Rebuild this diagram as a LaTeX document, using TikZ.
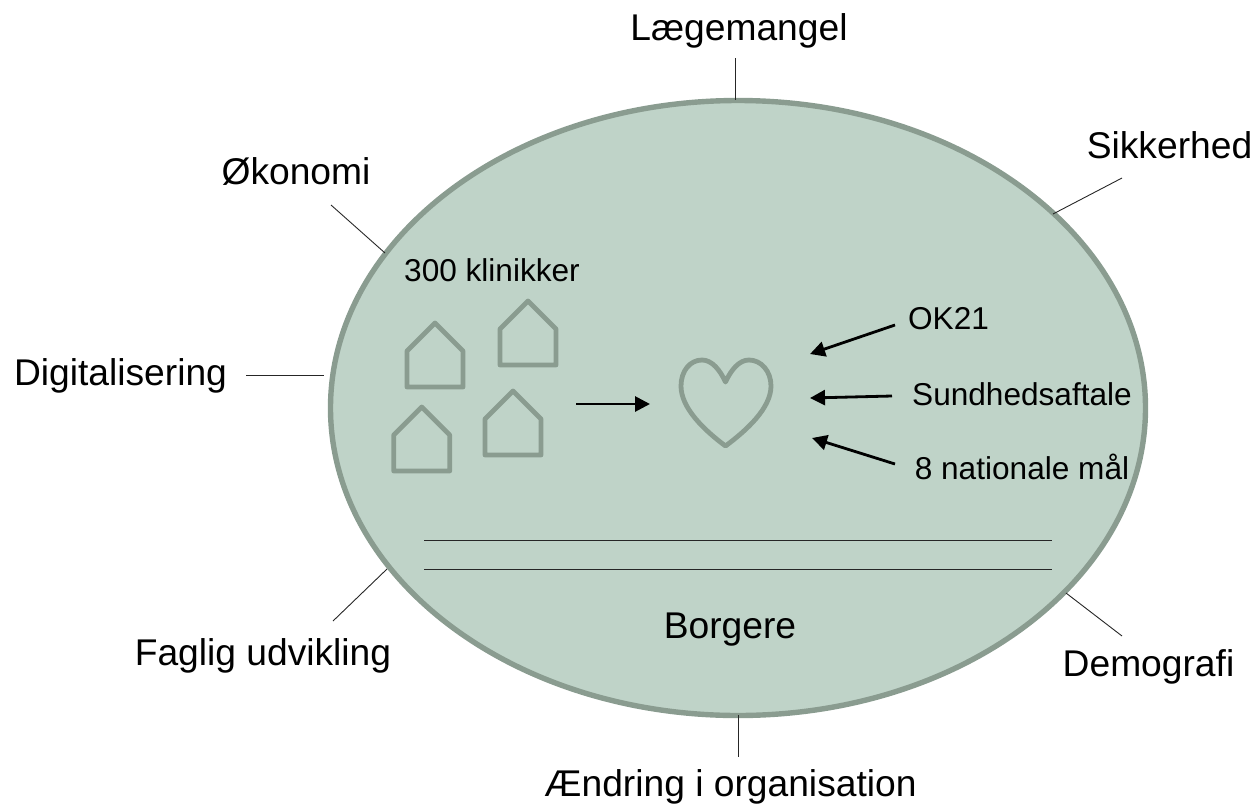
\documentclass[tikz,border=0pt]{standalone}
\usepackage{fontspec}
\setmainfont{Liberation Sans}
\usetikzlibrary{arrows.meta,shapes.geometric}
\definecolor{blobfill}{HTML}{BFD3C8}
\definecolor{blobline}{HTML}{8A9C90}
\tikzset{
  x=1pt,y=-1pt,
  biglabel/.style={inner sep=0pt,font=\fontsize{37.2}{42}\selectfont,anchor=base},
  smalllabel/.style={inner sep=0pt,font=\fontsize{31.6}{36}\selectfont,anchor=base},
  thinline/.style={draw=black!85,line width=0.9pt},
  pointer/.style={draw=black,line width=2.8pt,-{Triangle[length=15pt,width=15pt]}},
  outlineshape/.style={draw=blobline,line width=4.8pt,line join=round},
}
\newcommand{\houseat}[2]{\draw[outlineshape] (#1,#2) -- ++(28,28) -- ++(0,36) -- ++(-56,0) -- ++(0,-36) -- cycle;}
\begin{document}
\begin{tikzpicture}
\useasboundingbox (0,0) rectangle (1256,804);
\node[ellipse,draw=blobline,fill=blobfill,line width=5.4pt,inner sep=0pt,outer sep=0pt,minimum width=815pt,minimum height=615pt] (blob) at (738,408) {};
% outer labels
\node[biglabel] (laege) at (739,40) {Lægemangel};
\node[biglabel] (sikker) at (1169.5,158) {Sikkerhed};
\node[biglabel] (oko) at (296,184) {Økonomi};
\node[biglabel] (digi) at (120.5,385) {Digitalisering};
\node[biglabel] (faglig) at (263,665) {Faglig udvikling};
\node[biglabel] (demo) at (1148.5,676.5) {Demografi};
\node[biglabel] (aendr) at (730.5,796) {Ændring i organisation};
\node[biglabel] (borg) at (730,638) {Borgere};
% inner labels
\node[smalllabel] (klin) at (492,281) {300 klinikker};
\node[smalllabel] (ok) at (948.5,329.5) {OK21};
\node[smalllabel] (sund) at (1022,405.5) {Sundhedsaftale};
\node[smalllabel] (mal) at (1022,479) {8 nationale mål};
% spokes
\coordinate (a1) at (735,58); \coordinate (a2) at (735,100);
\coordinate (b1) at (1122,178); \coordinate (b2) at (1053,214);
\coordinate (c1) at (331,205); \coordinate (c2) at (385,253);
\coordinate (d1) at (246,375); \coordinate (d2) at (324,375);
\coordinate (e1) at (333,621); \coordinate (e2) at (387,569);
\coordinate (f1) at (1122,636); \coordinate (f2) at (1066,593);
\coordinate (g1) at (738,715); \coordinate (g2) at (738,757);
\foreach \p/\q in {a1/a2,b1/b2,c1/c2,d1/d2,e1/e2,f1/f2,g1/g2} \draw[thinline] (\p) -- (\q);
% lines
\coordinate (l1) at (424,540); \coordinate (l2) at (1052,540);
\coordinate (m1) at (424,569); \coordinate (m2) at (1052,569);
\draw[thinline] (l1) -- (l2);
\draw[thinline] (m1) -- (m2);
% houses
\houseat{435}{323}
\houseat{528}{301}
\houseat{421.7}{407}
\houseat{513}{391}
% heart
\draw[outlineshape] (725.5,382)
  .. controls (720,370) and (712,360) .. (702,360)
  .. controls (690,360) and (681,371) .. (681,386)
  .. controls (681,408) and (704,430) .. (725.5,446)
  .. controls (747,430) and (771,408) .. (771,386)
  .. controls (771,371) and (761,360) .. (749,360)
  .. controls (739,360) and (731,370) .. (725.5,382) -- cycle;
% arrows
\coordinate (h1) at (576,404); \coordinate (h2) at (650,404);
\coordinate (i1) at (895,325); \coordinate (i2) at (810,354);
\coordinate (j1) at (892,396); \coordinate (j2) at (810,398);
\coordinate (k1) at (895,464); \coordinate (k2) at (812,438);
\foreach \p/\q in {h1/h2,i1/i2,j1/j2,k1/k2} \draw[pointer] (\p) -- (\q);
\end{tikzpicture}
\end{document}
